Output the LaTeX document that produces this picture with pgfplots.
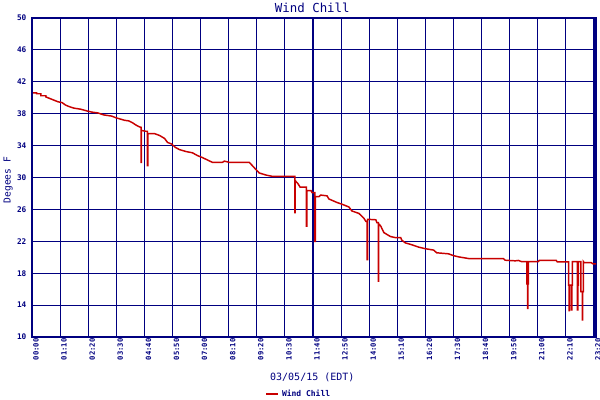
\documentclass[border=0pt]{standalone}
\usepackage{pgfplots}
\pgfplotsset{compat=1.18}
\usepackage{fontspec}
\setmainfont{DejaVu Sans Mono}
\definecolor{navyc}{RGB}{0,0,128}
\definecolor{redc}{RGB}{200,0,0}
\begin{document}
\begin{tikzpicture}
\useasboundingbox (0,0) rectangle (450pt,300pt);
\begin{axis}[
  at={(24pt,47.25pt)}, anchor=south west,
  scale only axis, width=423pt, height=239.25pt,
  xmin=0, xmax=1405, ymin=10, ymax=50,
  xtick={0,70,...,1400},
  xticklabels={00:00,01:10,02:20,03:30,04:40,05:50,07:00,08:10,09:20,10:30,11:40,12:50,14:00,15:10,16:20,17:30,18:40,19:50,21:00,22:10,23:20},
  ytick={10,14,...,50},
  major tick length=0pt,
  grid=major,
  major grid style={navyc, line width=0.85pt},
  axis line style={navyc, line width=0.85pt},
  /pgf/number format/assume math mode=true,
  yticklabel style={font=\fontsize{5.8}{6}\selectfont\bfseries, text=navyc, inner sep=1pt, xshift=-3pt},
  xticklabel style={rotate=90, anchor=east, font=\fontsize{5.4}{6}\selectfont\bfseries, text=navyc, inner sep=1pt, yshift=-3pt},
  title={Wind Chill},
  title style={at={(axis description cs:0.497,1)}, anchor=base, yshift=-1.5pt, inner sep=0pt, font=\fontsize{9.3}{10}\selectfont, text=navyc},
  ylabel={Degees F},
  ylabel style={at={(axis description cs:-0.0424,0.492)}, anchor=center, rotate=0, font=\fontsize{7.2}{8}\selectfont, text=navyc},
  xlabel={03/05/15 (EDT)},
  xlabel style={at={(axis description cs:0.497,-0.127)}, anchor=center, font=\fontsize{7.5}{8}\selectfont, text=navyc},
  legend style={at={(axis description cs:0.4735,-0.179)}, anchor=center, draw=none, fill=none, font=\fontsize{6}{7}\selectfont\bfseries, text=navyc, inner sep=0pt},
  legend image code/.code={\draw[#1, line width=1.6pt] (0pt,0pt) -- (9pt,0pt);},
]
\addplot[redc, line width=1.1pt, line join=miter] coordinates {
(0,40.6) (11.7,40.6) (11.7,40.5) (22.3,40.5) (22.3,40.25) (34.8,40.25) (34.8,40.1)
(44.7,39.9) (64.5,39.5) (74.5,39.4) (84.4,39.06) (94.3,38.86) (104.3,38.7)
(121.6,38.56) (136.5,38.35) (149,38.2) (163.9,38.1) (178.7,37.85) (198.6,37.7)
(208.5,37.5) (218.5,37.35) (230.9,37.17) (240.8,37.1) (250.7,36.85) (258.2,36.6)
(265.6,36.4) (270.6,36.3) (271.8,36.3) (271.8,31.9) (272.8,31.9) (272.8,35.9)
(283,35.8) (287.5,35.8) (287.5,31.5) (288.8,31.5) (288.8,35.5)
(305.4,35.5) (317.8,35.27) (330.2,34.9) (337.6,34.4) (347.6,34.2) (357.5,33.76)
(367.4,33.5) (384,33.25) (399.7,33.1) (412.1,32.75) (424.5,32.5) (436.9,32.2)
(449.4,31.9) (474.2,31.9) (479.1,32.05) (491.6,31.9) (541.2,31.9) (548.7,31.5)
(557.8,31.0) (566,30.57) (583.4,30.3) (598.3,30.15) (654.6,30.15)
(654.6,25.6) (655.8,25.6) (655.8,29.6)
(662.9,29.2) (667.8,28.8) (677.7,28.8) (683.5,28.8)
(683.5,23.9) (684.5,23.9) (684.5,28.35)
(695.1,28.35) (697.6,28.1) (704.5,28.1)
(704.5,22.0) (706,22.0) (706,27.6)
(715,27.6) (719.2,27.8) (734.9,27.7) (739.8,27.3) (759.7,26.87) (772.1,26.65)
(789.5,26.3) (797,25.8) (814.3,25.5) (826.7,24.9) (831.7,24.5)
(834.9,24.5) (834.9,19.7) (836,19.7) (836,24.76)
(856.5,24.7) (859,24.35) (862.7,24.35) (862.7,17.0) (863.7,17.0) (863.7,24.2)
(868.9,23.9) (876.4,23.1) (883.8,22.87) (893,22.6) (906.1,22.45) (918.6,22.45)
(921,22.15) (930.2,21.8) (945.9,21.57) (963.2,21.27) (979.9,21.07) (1000.5,20.9)
(1008,20.56) (1037.7,20.43) (1050.1,20.2) (1062.6,20.05) (1087.4,19.84)
(1174.3,19.84) (1178.5,19.63) (1204.1,19.55) (1211.5,19.6) (1219,19.46) (1231.4,19.46)
(1232.6,19.46) (1232.6,16.65) (1234.6,16.65) (1234.6,13.6) (1235.4,13.6) (1235.4,16.65) (1236.6,16.65) (1236.6,19.46)
(1261.2,19.46) (1263.7,19.6) (1305.9,19.6) (1308.3,19.43) (1335.7,19.43)
(1336.9,19.43) (1336.9,16.5) (1338.1,16.5) (1338.1,13.3) (1339,13.3) (1339,16.5)
(1343.9,16.5) (1343.9,13.4) (1344.8,13.4) (1344.8,16.5) (1346,16.5) (1346,19.46)
(1358.7,19.46) (1358.7,13.4) (1359.6,13.4) (1359.6,16.5) (1361,16.5) (1361,19.46)
(1367.2,19.46) (1367.2,15.7) (1371.2,15.7) (1371.2,12.15) (1372,12.15) (1372,15.7) (1373.5,15.7) (1373.5,19.46)
(1375.4,19.33) (1392.8,19.33) (1397.7,19.17) (1405,19.17)
};
\addlegendentry{Wind Chill}
\draw[navyc, line width=2pt] (rel axis cs:0,0) -- (rel axis cs:0,1);
\end{axis}
\end{tikzpicture}
\end{document}
